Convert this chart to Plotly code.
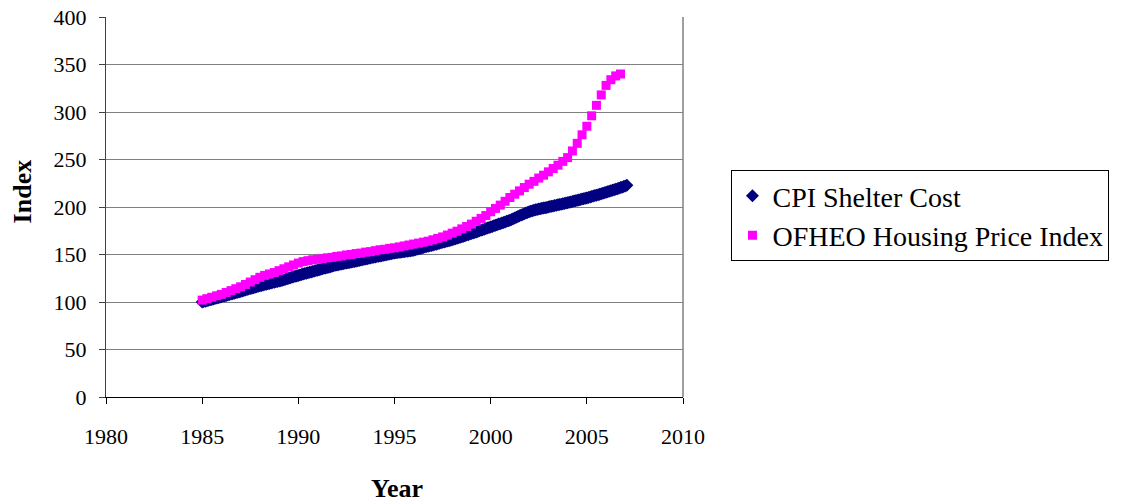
import plotly.graph_objects as go

# OFHEO Housing Price Index, quarterly, 1985Q1 - 2006Q4
ofheo_start = 1985
ofheo_values = [
    102, 103.5, 105, 106.5,
    108, 110, 112, 114,
    116, 118.5, 121, 123.5,
    126, 128, 129.5, 131,
    133, 135, 137, 139,
    141, 142.5, 143.5, 144.5,
    145, 145.5, 146.5, 147,
    148, 148.5, 149.5, 150,
    151, 151.5, 152.5, 153,
    154, 155, 155.5, 156.5,
    157, 158, 159, 160,
    161, 162, 163, 164,
    165.5, 167, 168.5, 170.5,
    172.5, 174.5, 177, 179.5,
    182, 185, 188, 191,
    195, 198.5, 202, 206,
    210, 213.5, 217, 220.5,
    224, 227, 230.5, 233.5,
    237, 240.5, 244, 248,
    252, 259, 267, 276,
    285, 296, 307, 318,
    328, 334, 338, 340,
]

# CPI Shelter Cost, monthly, Jan 1985 - Feb 2007
cpi_start = 1985
cpi_values = [
    100.0, 100.4, 100.9, 101.3, 101.8, 102.3, 102.7, 103.2, 103.6, 104.1, 104.6, 105.0,
    105.5, 106.0, 106.4, 106.9, 107.4, 107.8, 108.3, 108.8, 109.3, 109.7, 110.2, 110.6,
    111.1, 111.6, 112.1, 112.6, 113.1, 113.6, 114.1, 114.6, 115.1, 115.6, 116.1, 116.5,
    117.0, 117.4, 117.9, 118.3, 118.7, 119.1, 119.5, 120.0, 120.4, 120.8, 121.2, 121.6,
    122.0, 122.5, 123.0, 123.5, 124.0, 124.5, 125.0, 125.5, 126.0, 126.5, 127.0, 127.5,
    128.0, 128.5, 129.0, 129.4, 129.9, 130.3, 130.8, 131.3, 131.7, 132.2, 132.6, 133.1,
    133.5, 134.0, 134.4, 134.9, 135.4, 135.8, 136.3, 136.7, 137.2, 137.7, 138.1, 138.6,
    139.0, 139.3, 139.7, 140.0, 140.3, 140.7, 141.0, 141.3, 141.7, 142.0, 142.3, 142.7,
    143.0, 143.4, 143.8, 144.1, 144.5, 144.9, 145.3, 145.6, 146.0, 146.4, 146.8, 147.1,
    147.5, 147.8, 148.2, 148.5, 148.8, 149.2, 149.5, 149.8, 150.2, 150.5, 150.8, 151.2,
    151.5, 151.8, 152.0, 152.3, 152.5, 152.8, 153.0, 153.3, 153.5, 153.8, 154.0, 154.3,
    154.6, 155.1, 155.5, 156.0, 156.4, 156.9, 157.3, 157.8, 158.3, 158.7, 159.2, 159.6,
    160.0, 160.5, 160.9, 161.4, 161.9, 162.3, 162.8, 163.2, 163.7, 164.1, 164.6, 165.0,
    165.5, 166.0, 166.6, 167.1, 167.7, 168.2, 168.8, 169.3, 169.8, 170.4, 170.9, 171.5,
    172.0, 172.6, 173.2, 173.8, 174.3, 174.9, 175.5, 176.1, 176.7, 177.3, 177.8, 178.4,
    179.0, 179.6, 180.2, 180.8, 181.4, 182.0, 182.5, 183.1, 183.7, 184.3, 184.9, 185.5,
    186.0, 186.8, 187.6, 188.4, 189.2, 190.0, 190.7, 191.5, 192.2, 192.9, 193.6, 194.3,
    194.9, 195.5, 196.0, 196.5, 197.0, 197.4, 197.8, 198.2, 198.6, 199.0, 199.3, 199.6,
    200.0, 200.4, 200.8, 201.1, 201.5, 201.9, 202.3, 202.6, 203.0, 203.4, 203.8, 204.1,
    204.5, 204.9, 205.3, 205.8, 206.2, 206.6, 207.0, 207.4, 207.8, 208.3, 208.7, 209.1,
    209.5, 210.0, 210.5, 211.0, 211.5, 212.0, 212.5, 213.0, 213.5, 214.0, 214.5, 215.0,
    215.5, 216.0, 216.6, 217.1, 217.7, 218.2, 218.8, 219.3, 219.8, 220.4, 220.9, 221.5,
    222.0, 223.0,
]

x_ticks = [1980, 1985, 1990, 1995, 2000, 2005, 2010]
y_ticks = [0, 50, 100, 150, 200, 250, 300, 350, 400]

cpi_x = [cpi_start + i / 12 for i in range(len(cpi_values))]
ofheo_x = [ofheo_start + i / 4 for i in range(len(ofheo_values))]

FONT = "Liberation Serif"
TICK_FS = 22
LEG_FS = 28
TITLE_FS = 26

fig = go.Figure()
fig.add_trace(go.Scatter(
    x=cpi_x, y=cpi_values, mode="markers", name="CPI Shelter Cost",
    marker=dict(symbol="diamond", size=10, color="#000080", line=dict(width=0)),
))
fig.add_trace(go.Scatter(
    x=ofheo_x, y=ofheo_values, mode="markers", name="OFHEO Housing Price Index",
    marker=dict(symbol="square", size=9, color="#FF00FF", line=dict(width=0)),
))

fig.update_layout(
    width=1130, height=502,
    margin=dict(l=98, r=455, t=9, b=113),
    paper_bgcolor="white", plot_bgcolor="white",
    font=dict(family=FONT, size=TICK_FS, color="black"),
    showlegend=True,
    legend=dict(
        x=1.084, y=0.597, xanchor="left", yanchor="top",
        bordercolor="black", borderwidth=1,
        font=dict(family=FONT, size=LEG_FS, color="black"),
        tracegroupgap=0,
    ),
    xaxis=dict(
        range=[1980, 2010], tickvals=x_ticks, ticktext=[str(t) for t in x_ticks],
        showgrid=False, zeroline=False, automargin=False,
        showline=True, linecolor="#000000", linewidth=1, mirror=False,
        ticks="outside", ticklen=6, tickcolor="#000000",
        ticklabelstandoff=14, ticklabeloverflow="allow",
        tickfont=dict(family=FONT, size=TICK_FS),
    ),
    yaxis=dict(
        range=[0, 400], tickvals=y_ticks, ticktext=[str(t) for t in y_ticks],
        showgrid=True, gridcolor="#808080", gridwidth=1, zeroline=False,
        automargin=False,
        showline=True, linecolor="#404040", linewidth=1,
        ticks="outside", ticklen=6, tickcolor="#404040",
        ticklabelstandoff=8, ticklabeloverflow="allow",
        tickfont=dict(family=FONT, size=TICK_FS),
    ),
    annotations=[
        dict(text="<b>Year</b>", xref="paper", yref="paper", x=0.504, y=-0.2395,
             xanchor="center", yanchor="middle", showarrow=False,
             font=dict(family=FONT, size=TITLE_FS)),
        dict(text="<b>Index</b>", xref="paper", yref="paper", x=-0.145, y=0.542,
             xanchor="center", yanchor="middle", showarrow=False, textangle=-90,
             font=dict(family=FONT, size=TITLE_FS)),
    ],
    shapes=[
        dict(type="line", xref="paper", yref="paper", x0=1, x1=1, y0=0, y1=1,
             line=dict(color="#808080", width=1.5)),
    ],
)

fig.write_html("out.html")
